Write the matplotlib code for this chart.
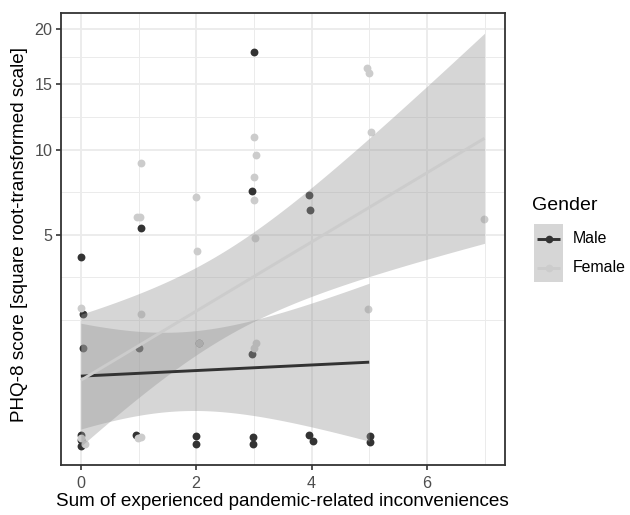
import numpy as np
import matplotlib
matplotlib.use("Agg")
import matplotlib.pyplot as plt
from matplotlib.patches import Rectangle
from matplotlib.lines import Line2D

plt.rcParams['font.family'] = ['Liberation Sans', 'DejaVu Sans']

# ---------------- data ----------------
male_x = [0.0, 3.01, 2.97, 3.95, 3.97, 1.05, 0.04, 0.04, 1.00, 2.04, 2.97,
          0.01, 0.01, 0.0, 0.96, 2.0, 2.0, 2.99, 2.99, 3.96, 4.03, 5.01, 5.01]
male_y = [3.97, 17.85, 7.33, 7.14, 6.29, 5.30, 1.89, 0.99, 0.99, 1.10, 0.88,
          0.003, -0.004, 0.0, 0.003, 0.002, -0.002, 0.001, -0.002, 0.003, -0.0002, 0.002, -0.0005]

female_x = [1.05, 0.97, 1.02, 1.99, 3.01, 3.03, 3.01, 3.01, 3.02, 2.02, 1.05,
            4.97, 4.99, 5.03, 6.99, 0.01, 4.98, 2.04, 3.01, 3.03,
            0.07, 0.01, 1.05, 0.99]
female_y = [9.1, 5.87, 5.90, 6.97, 10.9, 9.66, 8.2, 6.85, 4.81, 4.23, 1.89,
            16.4, 15.97, 11.25, 5.81, 2.05, 2.03, 1.10, 0.99, 1.12,
            -0.002, 0.0003, 0.001, 0.0003]

# linear fits on the square-root scale
male_fit = dict(intercept=0.693, slope=0.0304, h0=0.43, growth=0.226, center=1.70, xmin=0.0, xmax=5.0)
female_fit = dict(intercept=0.648, slope=0.3767, h0=0.469, growth=0.227, center=2.4, xmin=0.0, xmax=7.0)

groups = ["Male", "Female"]
x_ticks = [0, 2, 4, 6]
y_ticks = [5, 10, 15, 20]
x_label = "Sum of experienced pandemic-related inconveniences"
y_label = "PHQ-8 score [square root-transformed scale]"
legend_title = "Gender"

# ---------------- style ----------------
male_col = "#333333"
female_col = "#cccccc"
ribbon_col = "#999999"
grid_col = "#ebebeb"
dark = "#333333"
W, H = 630, 515
AX_L, AX_R, AX_T, AX_B = 60.7, 504.7, 13.3, 464.5


def fwd(v):
    v = np.asarray(v, dtype=float)
    return np.sign(v) * np.sqrt(np.abs(v))


def inv(s):
    s = np.asarray(s, dtype=float)
    return np.sign(s) * s ** 2


fig = plt.figure(figsize=(W / 100, H / 100), dpi=100)
ax = fig.add_axes([AX_L / W, 1 - AX_B / H, (AX_R - AX_L) / W, (AX_B - AX_T) / H])
ax.set_yscale('function', functions=(fwd, inv))
ax.set_xlim(-0.35, 7.35)
ax.set_ylim(inv(-0.27), inv(4.647))

# grid: major and minor (ggplot style, minor at midpoints in transformed space)
ax.set_xticks(x_ticks)
ax.set_xticks([1, 3, 5, 7], minor=True)
ax.set_yticks(y_ticks)
ymaj = fwd(y_ticks)
step = ymaj[1] - ymaj[0]
ext = np.concatenate([[ymaj[0] - step], ymaj])
ymin_s = (ext[:-1] + ext[1:]) / 2
ax.set_yticks(list(inv(np.concatenate([[ext[0]], ymin_s]))), minor=True)
ax.grid(True, which='major', color=grid_col, lw=1.35, zorder=0)
ax.grid(True, which='minor', color=grid_col, lw=0.7, zorder=0)
ax.set_axisbelow(True)
ax.set_yticklabels([str(t) for t in y_ticks])
ax.set_xticklabels([str(t) for t in x_ticks])

ax.tick_params(which='major', length=3.5, width=1.2, color=dark, labelsize=11.6,
               labelcolor="#4d4d4d", pad=2.5)
ax.tick_params(axis='x', which='major', pad=4.5)
ax.tick_params(which='minor', length=0)
for sp in ax.spines.values():
    sp.set_color(dark)
    sp.set_linewidth(1.3)

# points (drawn first, ribbons over them)
ax.scatter(male_x, male_y, s=32, color=male_col, lw=0, zorder=2)
ax.scatter(female_x, female_y, s=32, color=female_col, lw=0, zorder=2)

# smooths
for fit in (male_fit, female_fit):
    xs = np.linspace(fit['xmin'], fit['xmax'], 200)
    mid = fit['intercept'] + fit['slope'] * xs
    hw = np.sqrt(fit['h0'] ** 2 + (fit['growth'] * (xs - fit['center'])) ** 2)
    ax.fill_between(xs, inv(mid - hw), inv(mid + hw), color=ribbon_col, alpha=0.4, lw=0, zorder=3)
for fit, col in ((male_fit, male_col), (female_fit, female_col)):
    xs = np.linspace(fit['xmin'], fit['xmax'], 200)
    mid = fit['intercept'] + fit['slope'] * xs
    ax.plot(xs, inv(mid), color=col, lw=2.1, zorder=4, solid_capstyle='butt')

ax_w = AX_R - AX_L
ax_h = AX_B - AX_T
ax.set_xlabel(x_label, fontsize=13.6, color="black")
ax.xaxis.set_label_coords(0.5, -(501 - AX_B) / ax_h)
ax.xaxis.label.set_va('center')
ax.set_ylabel(y_label, fontsize=13.6, color="black")
ax.yaxis.set_label_coords(-(AX_L - 20) / ax_w, (AX_B - 235) / ax_h)
ax.yaxis.label.set_va('center')

# legend (ggplot-style keys drawn in figure pixel coordinates)
def fx(px):
    return px / W


def fy(py):
    return 1 - py / H


fig.text(fx(532), fy(206), legend_title, fontsize=14, ha='left', va='center')
key_top = 224
key_h = 29
for i, (name, col) in enumerate(zip(groups, (male_col, female_col))):
    top = key_top + i * key_h
    fig.add_artist(Rectangle((fx(534), fy(top + key_h)), fx(563) - fx(534), fy(top) - fy(top + key_h),
                             transform=fig.transFigure, facecolor=ribbon_col, alpha=0.4,
                             edgecolor='none'))
    cy = fy(top + key_h / 2)
    fig.add_artist(Line2D([fx(537), fx(560)], [cy, cy], transform=fig.transFigure,
                          color=col, lw=2.1, solid_capstyle='butt'))
    fig.add_artist(Line2D([fx(548.5)], [cy], transform=fig.transFigure, color=col,
                          marker='o', markersize=5.5, markeredgewidth=0, lw=0))
    fig.text(fx(573), cy, name, fontsize=11.4, ha='left', va='center')

fig.savefig("out.png", dpi=100)
